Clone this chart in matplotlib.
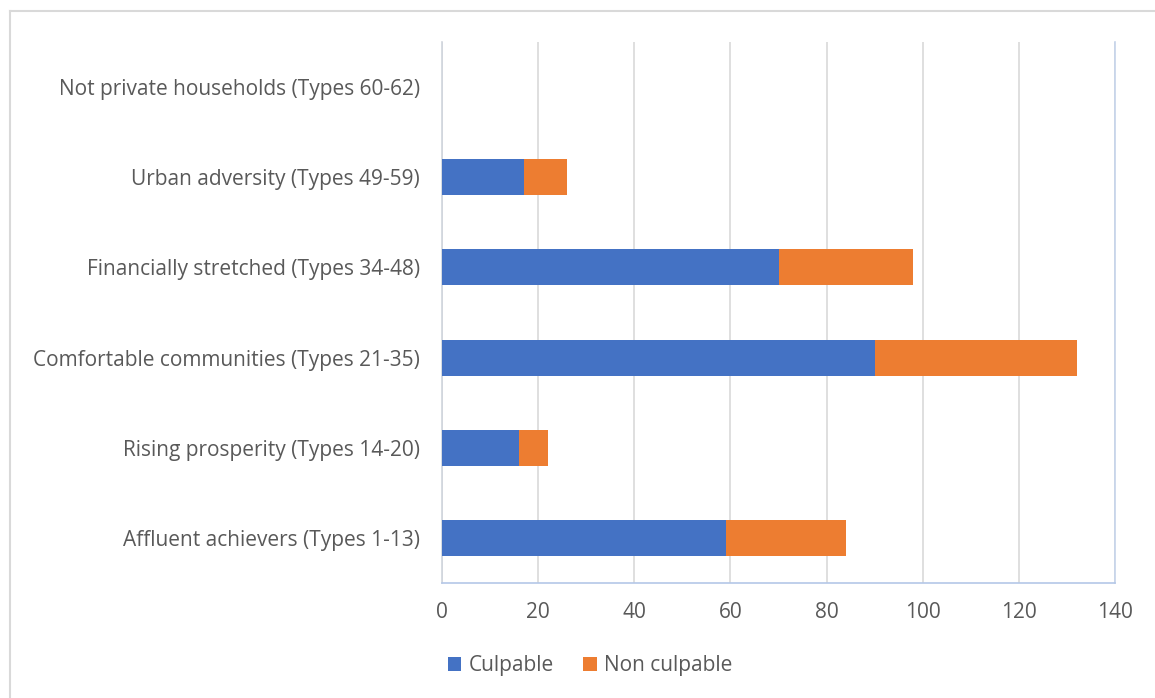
import matplotlib
matplotlib.use("Agg")
import matplotlib.pyplot as plt
from matplotlib.lines import Line2D

categories = [
    "Affluent achievers (Types 1-13)",
    "Rising prosperity (Types 14-20)",
    "Comfortable communities (Types 21-35)",
    "Financially stretched (Types 34-48)",
    "Urban adversity (Types 49-59)",
    "Not private households (Types 60-62)",
]
culpable = [59, 16, 90, 70, 17, 0]
non_culpable = [25, 6, 42, 28, 9, 0]
x_ticks = [0, 20, 40, 60, 80, 100, 120, 140]

plt.rcParams["font.family"] = ["Open Sans", "DejaVu Sans"]

W, H = 1155, 698
fig = plt.figure(figsize=(W / 100, H / 100), dpi=100)
ax = fig.add_axes([442 / W, 1 - 583 / H, (1115 - 442) / W, (583 - 42) / H])

blue = "#4472C4"
orange = "#ED7D31"
text_col = "#595959"
fs = 15

ypos = list(range(len(categories)))
ax.barh(ypos, culpable, height=0.4, color=blue, label="Culpable", zorder=3)
ax.barh(ypos, non_culpable, left=culpable, height=0.4, color=orange,
        label="Non culpable", zorder=3)

ax.set_xlim(0, 140)
ax.set_ylim(-0.5, len(categories) - 0.5)
ax.set_xticks(x_ticks)
ax.set_yticks(ypos)
ax.set_yticklabels(categories)
ax.tick_params(axis="both", length=0, labelsize=fs, colors=text_col)
ax.tick_params(axis="x", pad=14)
ax.tick_params(axis="y", pad=16)

ax.grid(axis="x", color="#D9D9D9", linewidth=1.2, zorder=0)
ax.spines["top"].set_visible(False)
ax.spines["left"].set_color("#D0D5DD")
ax.spines["left"].set_linewidth(1.2)
ax.spines["bottom"].set_color("#B4C7E7")
ax.spines["bottom"].set_linewidth(1.2)
ax.spines["right"].set_color("#C5D3EA")
ax.spines["right"].set_linewidth(1.2)

leg = fig.legend(loc="center", bbox_to_anchor=(590 / W, 1 - 666 / H), ncol=2,
                 frameon=False, fontsize=fs, handlelength=0.65,
                 handleheight=0.65, handletextpad=0.35, columnspacing=1.4)
for t in leg.get_texts():
    t.set_color(text_col)

# outer chart frame
fig.add_artist(Line2D([10 / W, 10 / W], [0, 1 - 11 / H], transform=fig.transFigure,
                      color="#D9D9D9", linewidth=1.5))
fig.add_artist(Line2D([10 / W, 1], [1 - 11 / H, 1 - 11 / H], transform=fig.transFigure,
                      color="#D9D9D9", linewidth=1.5))

fig.savefig("out.png", dpi=100, facecolor="white")
